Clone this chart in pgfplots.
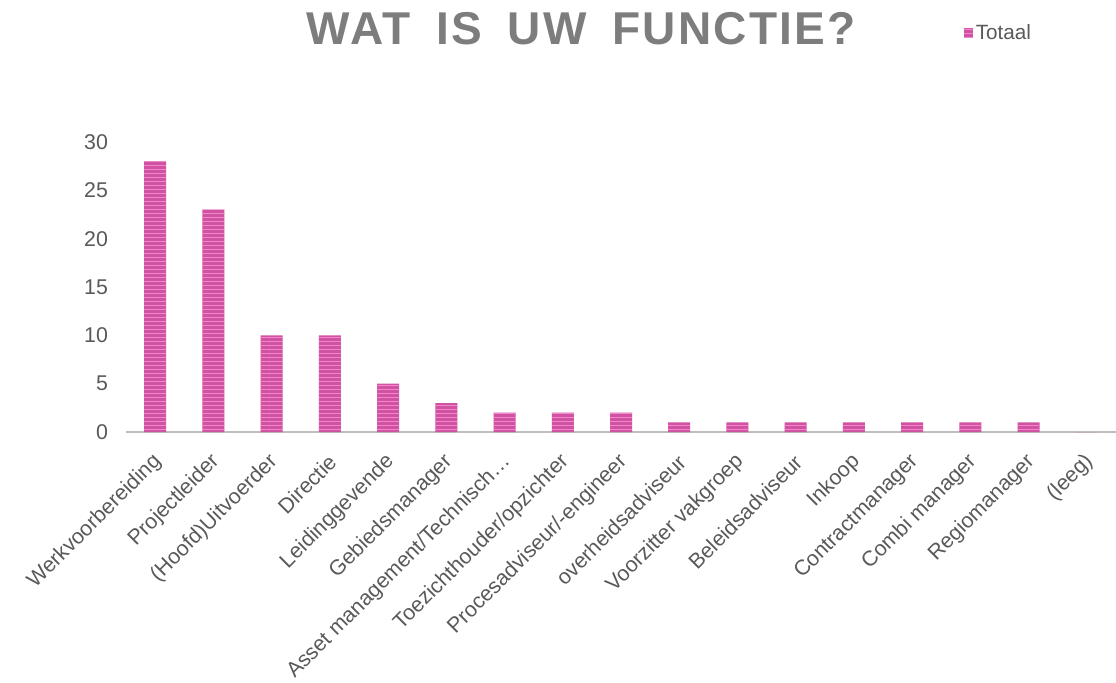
\documentclass[border=0pt]{standalone}
\usepackage{fontspec}
\setmainfont{Liberation Sans}
\newfontfamily\titlefont[LetterSpace=5]{Liberation Sans}
\usepackage{pgfplots}
\pgfplotsset{compat=1.18}
\usetikzlibrary{patterns}
\definecolor{barpink}{RGB}{210,82,162}
\definecolor{stripe}{RGB}{240,135,205}
\definecolor{txtgray}{RGB}{89,89,89}
\definecolor{titlegray}{RGB}{125,125,125}
\definecolor{axgray}{RGB}{190,190,190}
\begin{document}
\begin{tikzpicture}[x=1pt,y=1pt]
\useasboundingbox (0,0) rectangle (837,511.5);
\node[font=\titlefont\fontsize{34.5}{39}\selectfont\bfseries, text=titlegray, anchor=base] at (436,478) {WAT\hspace{8pt} IS\hspace{8pt} UW\hspace{8pt} FUNCTIE?};
\begin{axis}[
  at={(94.5pt,187.5pt)}, anchor=south west,
  scale only axis, width=742.5pt, height=217.5pt,
  xmin=-0.5, xmax=16.5, ymin=0, ymax=30,
  ytick={0,5,...,30},
  xtick={0,...,16},
  xticklabels={Werkvoorbereiding,Projectleider,(Hoofd)Uitvoerder,Directie,Leidinggevende,Gebiedsmanager,Asset management/Technisch…,Toezichthouder/opzichter,Procesadviseur/-engineer,overheidsadviseur,Voorzitter vakgroep,Beleidsadviseur,Inkoop,Contractmanager,Combi manager,Regiomanager,(leeg)},
  axis x line*=bottom, axis y line*=left,
  y axis line style={draw=none},
  x axis line style={axgray, line width=1.2pt, -},
  major tick length=0pt,
  /pgf/number format/assume math mode=true,
  yticklabel style={font=\fontsize{16}{18}\selectfont, text=txtgray, xshift=-10pt},
  xticklabel style={font=\fontsize{16}{18}\selectfont, text=txtgray, xshift=4.5pt, yshift=-17.5pt, rotate=45, anchor=east},
  legend style={draw=none, at={(0.842,1.376)}, anchor=west, font=\fontsize{15.5}{17}\selectfont, text=txtgray, fill=none},
  legend image code/.code={\fill[barpink] (0pt,-3.5pt) rectangle (7pt,3.5pt);},
]
\addplot[ybar, bar width=16.5pt, draw=none, fill=barpink,
  postaction={pattern=horizontal lines, pattern color=stripe}]
  coordinates {(0,28) (1,23) (2,10) (3,10) (4,5) (5,3) (6,2) (7,2) (8,2) (9,1) (10,1) (11,1) (12,1) (13,1) (14,1) (15,1) (16,0)};
\addlegendentry{Totaal}
\end{axis}
\end{tikzpicture}
\end{document}
